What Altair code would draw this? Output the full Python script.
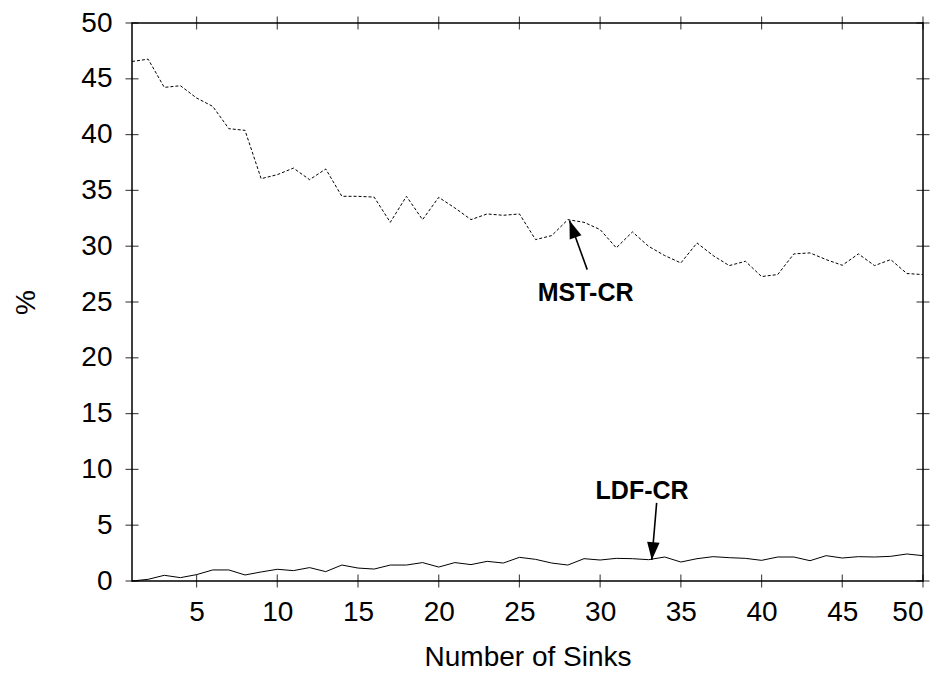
import altair as alt
import pandas as pd

# ---- data ----
sinks = list(range(1, 51))
mst_cr = [46.55, 46.76, 44.23, 44.38, 43.28, 42.53, 40.53, 40.38, 36.05, 36.41,
          37.0, 35.96, 36.92, 34.47, 34.47, 34.4, 32.14, 34.47, 32.38, 34.38,
          33.43, 32.38, 32.89, 32.77, 32.89, 30.59, 30.95, 32.38, 32.14, 31.49,
          29.85, 31.28, 29.99, 29.16, 28.5, 30.29, 29.16, 28.26, 28.65, 27.28,
          27.46, 29.31, 29.4, 28.8, 28.29, 29.31, 28.26, 28.8, 27.55, 27.46]
ldf_cr = [0.0, 0.15, 0.51, 0.3, 0.57, 0.99, 0.99, 0.54, 0.81, 1.05,
          0.93, 1.2, 0.84, 1.43, 1.16, 1.07, 1.43, 1.43, 1.65, 1.25,
          1.65, 1.47, 1.76, 1.61, 2.12, 1.94, 1.61, 1.43, 2.0, 1.88,
          2.03, 2.0, 1.91, 2.15, 1.7, 2.0, 2.18, 2.09, 2.03, 1.85,
          2.15, 2.15, 1.82, 2.27, 2.06, 2.18, 2.15, 2.21, 2.42, 2.27]

x_ticks = [5, 10, 15, 20, 25, 30, 35, 40, 45, 50]
y_ticks = [0, 5, 10, 15, 20, 25, 30, 35, 40, 45, 50]

# annotations: label, text position, arrow tail, arrow tip, head angle
ann_label = ["MST-CR", "LDF-CR"]
ann_text_x = [29.1, 32.6]
ann_text_y = [25.85, 8.06]
ann_tail_x = [29.2, 33.5]
ann_tail_y = [27.9, 7.0]
ann_tip_x = [28.1, 33.2]
ann_tip_y = [32.3, 1.88]
ann_angle = [340, 185]

FONT = "Liberation Sans"
W, H = 791, 558

df_mst = pd.DataFrame({"x": sinks, "y": mst_cr})
df_ldf = pd.DataFrame({"x": sinks, "y": ldf_cr})
df_ann = pd.DataFrame({"label": ann_label, "tx": ann_text_x, "ty": ann_text_y,
                       "x1": ann_tail_x, "y1": ann_tail_y,
                       "x2": ann_tip_x, "y2": ann_tip_y, "angle": ann_angle})
df_xt = pd.DataFrame({"v": x_ticks})
df_yt = pd.DataFrame({"v": y_ticks})

xs = alt.Scale(domain=[1, 50], nice=False, zero=False)
ys = alt.Scale(domain=[0, 50], nice=False, zero=True)

x_axis = alt.Axis(values=x_ticks, ticks=False, domain=False, grid=False,
                  labelFont=FONT, labelFontSize=28, labelColor="black",
                  labelPadding=17, title="Number of Sinks", titleFont=FONT,
                  titleFontSize=28, titleFontWeight="normal", titleColor="black",
                  titlePadding=17)
y_axis = alt.Axis(values=y_ticks, ticks=False, domain=False, grid=False,
                  labelFont=FONT, labelFontSize=28, labelColor="black",
                  labelPadding=20, title="%", titleFont=FONT,
                  titleFontSize=28, titleFontWeight="normal", titleColor="black",
                  titlePadding=40)

mst = alt.Chart(df_mst).mark_line(color="black", strokeWidth=1, strokeDash=[3, 2]).encode(
    x=alt.X("x:Q", scale=xs, axis=x_axis),
    y=alt.Y("y:Q", scale=ys, axis=y_axis),
)
ldf = alt.Chart(df_ldf).mark_line(color="black", strokeWidth=1).encode(
    x=alt.X("x:Q", scale=xs),
    y=alt.Y("y:Q", scale=ys),
)

# inward tick marks (gnuplot style, mirrored)
xt_bottom = alt.Chart(df_xt).mark_tick(color="black", thickness=1.2, size=13, orient="vertical").encode(
    x=alt.X("v:Q", scale=xs), y=alt.value(H))
xt_top = alt.Chart(df_xt).mark_tick(color="black", thickness=1.2, size=13, orient="vertical").encode(
    x=alt.X("v:Q", scale=xs), y=alt.value(0))
yt_left = alt.Chart(df_yt).mark_tick(color="black", thickness=1.2, size=13, orient="horizontal").encode(
    y=alt.Y("v:Q", scale=ys), x=alt.value(0))
yt_right = alt.Chart(df_yt).mark_tick(color="black", thickness=1.2, size=13, orient="horizontal").encode(
    y=alt.Y("v:Q", scale=ys), x=alt.value(W))

shaft = alt.Chart(df_ann).mark_rule(color="black", strokeWidth=1.6).encode(
    x=alt.X("x1:Q", scale=xs), y=alt.Y("y1:Q", scale=ys),
    x2="x2:Q", y2="y2:Q")
head = alt.Chart(df_ann).mark_point(
    shape="M0,0L-0.7,2L0.7,2Z", filled=True, color="black", opacity=1, size=320,
    strokeWidth=0
).encode(
    x=alt.X("x2:Q", scale=xs), y=alt.Y("y2:Q", scale=ys),
    angle=alt.Angle("angle:Q", scale=None))
labels = alt.Chart(df_ann).mark_text(font=FONT, fontSize=25, fontWeight="bold",
                                     color="black", baseline="middle", align="center").encode(
    x=alt.X("tx:Q", scale=xs), y=alt.Y("ty:Q", scale=ys), text="label:N")

chart = alt.layer(mst, ldf, xt_bottom, xt_top, yt_left, yt_right, shaft, head, labels).properties(
    width=W, height=H,
    autosize=alt.AutoSizeParams(type="none"),
    padding={"left": 132, "top": 23, "right": 26, "bottom": 92},
    background="white",
).configure_view(stroke="black", strokeWidth=1.5)

chart.save("out.html", embed_options={"renderer": "svg", "actions": False})
